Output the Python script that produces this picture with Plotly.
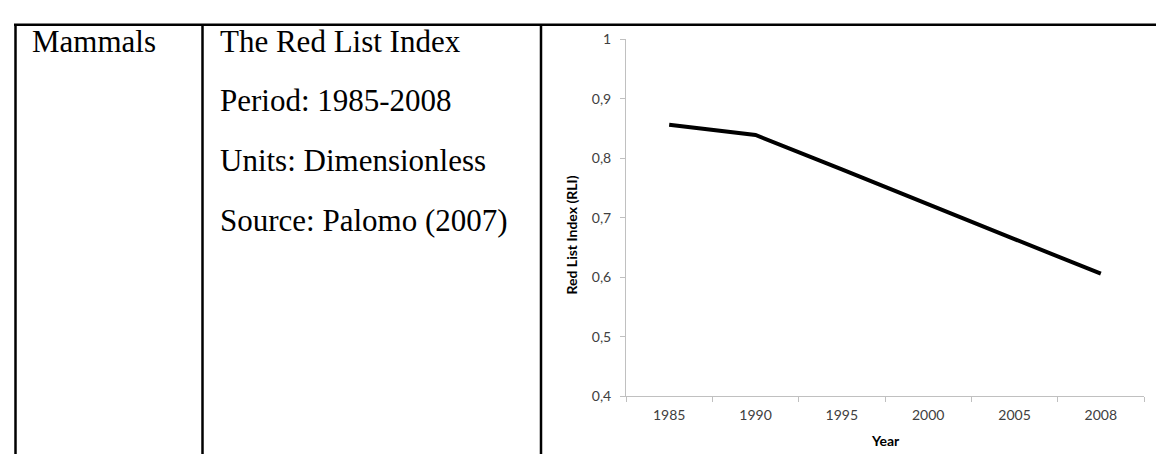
import plotly.graph_objects as go

W, H = 1164, 454

# ---- data ----
years = ["1985", "1990", "1995", "2000", "2005", "2008"]
rli = [0.856, 0.839, 0.781, 0.722, 0.664, 0.606]
y_tick_vals = [0.4, 0.5, 0.6, 0.7, 0.8, 0.9, 1.0]
y_tick_text = ["0,4", "0,5", "0,6", "0,7", "0,8", "0,9", "1"]
group_label = "Mammals"
info_lines = ["The Red List Index", "Period: 1985-2008", "Units: Dimensionless", "Source: Palomo (2007)"]
x_title = "Year"
y_title = "Red List Index (RLI)"


def px(x):
    return x / W


def py(y):
    return 1 - y / H


# plot area in pixels
L, R, T, B = 618, 1136, 23, 394

fig = go.Figure()
fig.add_trace(go.Scatter(
    x=years, y=rli, mode="lines",
    line=dict(color="black", width=4),
    showlegend=False, hoverinfo="skip",
))

tick_font = dict(family="Lato, 'Open Sans', sans-serif", size=14, color="#404040")

fig.update_layout(
    width=W, height=H,
    margin=dict(l=0, r=0, t=0, b=0),
    paper_bgcolor="white", plot_bgcolor="white",
    xaxis=dict(
        domain=[px(L), px(R)], type="category", range=[-0.5, len(years) - 0.5],
        showline=True, linecolor="#c0c0c0", linewidth=1,
        ticks="outside", ticklen=5, tickcolor="#c0c0c0", tickson="boundaries",
        showgrid=False, zeroline=False, tickfont=tick_font, ticklabelstandoff=6,
    ),
    yaxis=dict(
        domain=[py(B), py(T)], range=[0.4, 1.0],
        tickvals=y_tick_vals, ticktext=y_tick_text,
        showline=True, linecolor="#c0c0c0", linewidth=1,
        ticks="outside", ticklen=5, tickcolor="#c0c0c0",
        showgrid=False, zeroline=False, tickfont=tick_font, ticklabelstandoff=6,
    ),
)

# table borders
line_style = dict(color="black", width=2.5)
shapes = [
    dict(type="line", xref="paper", yref="paper", x0=px(6), x1=1, y0=py(8), y1=py(8), line=line_style),
    dict(type="line", xref="paper", yref="paper", x0=px(7.5), x1=px(7.5), y0=py(8), y1=0, line=line_style),
    dict(type="line", xref="paper", yref="paper", x0=px(194.5), x1=px(194.5), y0=py(8), y1=0, line=line_style),
    dict(type="line", xref="paper", yref="paper", x0=px(533), x1=px(533), y0=py(8), y1=0, line=line_style),
]
fig.update_layout(shapes=shapes)

serif = dict(family="'Liberation Serif', 'Times New Roman', serif", size=31, color="black")
ann = [
    dict(text=group_label, x=px(22), y=py(25), xref="paper", yref="paper",
         xanchor="left", yanchor="middle", showarrow=False, font=serif),
]
for i, t in enumerate(info_lines):
    ann.append(dict(text=t, x=px(210), y=py(25 + 62 * i), xref="paper", yref="paper",
                    xanchor="left", yanchor="middle", showarrow=False, font=serif))

bold_font = dict(family="Lato, 'Open Sans', sans-serif", size=14, color="black")
ann.append(dict(text="<b>" + x_title + "</b>", x=px((L + R) / 2), y=py(440), xref="paper", yref="paper",
                xanchor="center", yanchor="middle", showarrow=False, font=bold_font))
ann.append(dict(text="<b>" + y_title + "</b>", x=px(563), y=py(227), xref="paper", yref="paper",
                xanchor="center", yanchor="middle", showarrow=False, textangle=-90, font=bold_font))
fig.update_layout(annotations=ann)

fig.write_html("out.html")
